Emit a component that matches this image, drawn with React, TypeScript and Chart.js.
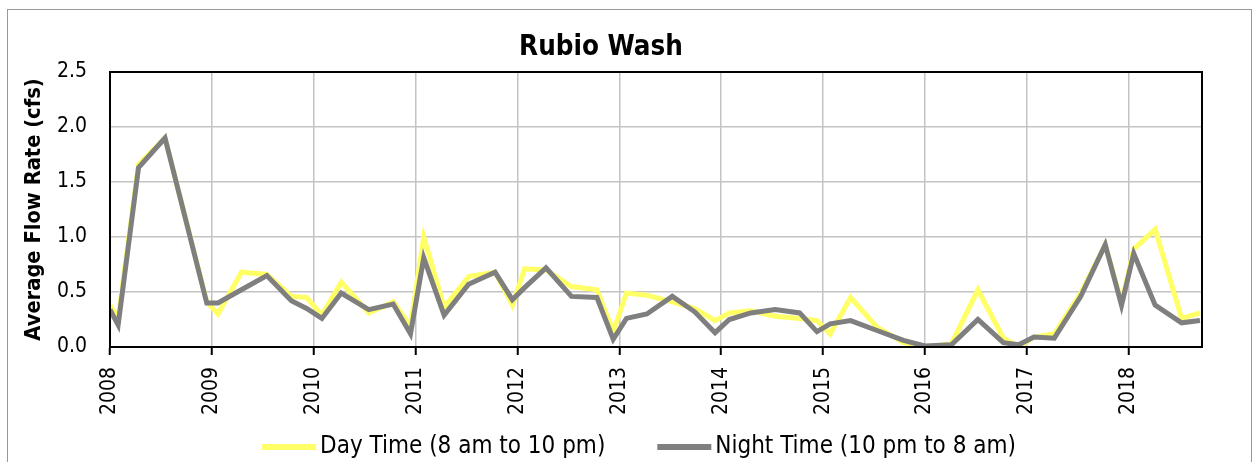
import React, { useEffect, useRef } from 'react';
import { Chart, registerables } from 'chart.js';

Chart.register(...registerables);

const TITLE = 'Rubio Wash';
const Y_TITLE = 'Average Flow Rate (cfs)';
const DAY_LABEL = 'Day Time (8 am to 10 pm)';
const NIGHT_LABEL = 'Night Time (10 pm to 8 am)';

// Sample dates as decimal years
const sampleYears = [
  2008.00, 2008.08, 2008.28, 2008.54, 2008.95,
  2009.06, 2009.29, 2009.54, 2009.78, 2009.93,
  2010.08, 2010.27, 2010.54, 2010.78, 2010.95,
  2011.08, 2011.28, 2011.52, 2011.78, 2011.95,
  2012.07, 2012.28, 2012.53, 2012.78, 2012.94,
  2013.07, 2013.27, 2013.52, 2013.74, 2013.94,
  2014.08, 2014.29, 2014.53, 2014.77, 2014.94,
  2015.07, 2015.27, 2015.53, 2015.79, 2016.00,
  2016.26, 2016.52, 2016.77, 2016.92,
  2017.07, 2017.27, 2017.53, 2017.77, 2017.93,
  2018.05, 2018.26, 2018.52, 2018.70,
];

const dayFlow = [
  0.38, 0.26, 1.66, 1.90, 0.41,
  0.30, 0.68, 0.66, 0.46, 0.45,
  0.29, 0.59, 0.31, 0.41, 0.19,
  1.00, 0.36, 0.64, 0.68, 0.38,
  0.71, 0.70, 0.55, 0.52, 0.14,
  0.49, 0.47, 0.41, 0.35, 0.24,
  0.31, 0.33, 0.28, 0.26, 0.24,
  0.12, 0.45, 0.18, 0.04, 0.00,
  0.03, 0.52, 0.08, 0.00,
  0.09, 0.12, 0.49, 0.93, 0.40,
  0.89, 1.07, 0.26, 0.31,
];

const nightFlow = [
  0.34, 0.20, 1.63, 1.90, 0.40,
  0.40, 0.52, 0.65, 0.42, 0.35,
  0.26, 0.49, 0.34, 0.39, 0.12,
  0.81, 0.29, 0.57, 0.68, 0.43,
  0.54, 0.72, 0.46, 0.45, 0.07,
  0.26, 0.30, 0.46, 0.32, 0.13,
  0.25, 0.31, 0.34, 0.31, 0.14,
  0.21, 0.24, 0.15, 0.06, 0.01,
  0.02, 0.25, 0.04, 0.02,
  0.09, 0.08, 0.46, 0.93, 0.38,
  0.85, 0.38, 0.22, 0.24,
];

const yearTicks = [2008, 2009, 2010, 2011, 2012, 2013, 2014, 2015, 2016, 2017, 2018];
const flowTicks = [0, 0.5, 1.0, 1.5, 2.0, 2.5];
const X_MIN = 2008;
const X_MAX = 2018.72;

const DAY_COLOR = '#ffff66';
const NIGHT_COLOR = '#7f7f7f';
const GRID_COLOR = '#c3c3c3';

function pickFamily(): string {
  const c = document.createElement('canvas').getContext('2d')!;
  const sample = 'mmmmWWWWiiii0123456789 Average';
  c.font = '100px monospace';
  const base = c.measureText(sample).width;
  c.font = "100px 'DejaVu Sans Condensed', monospace";
  const w = c.measureText(sample).width;
  return Math.abs(w - base) > 0.5 ? "'DejaVu Sans Condensed', 'DejaVu Sans', sans-serif" : "'DejaVu Sans', sans-serif";
}

function fitSize(family: string, weight: string, text: string, target: number): number {
  const c = document.createElement('canvas').getContext('2d')!;
  c.font = `${weight} 100px ${family}`;
  const w = c.measureText(text).width;
  return Math.round((100 * target / w) * 10) / 10;
}

export default function App() {
  const canvasRef = useRef<HTMLCanvasElement | null>(null);

  useEffect(() => {
    if (!canvasRef.current) return;
    const FONT = pickFamily();
    const titleSize = fitSize(FONT, 'bold', TITLE, 164);
    const yTitleSize = fitSize(FONT, 'bold', Y_TITLE, 262);
    const tickSize = fitSize(FONT, 'normal', '2018', 48);
    const legendSize = fitSize(FONT, 'normal', DAY_LABEL, 285);

    const plotFrame = {
      id: 'plotFrame',
      afterDraw(chart: any) {
        const { ctx, chartArea } = chart;
        ctx.save();
        ctx.strokeStyle = '#000';
        ctx.lineWidth = 2;
        ctx.strokeRect(chartArea.left, chartArea.top, chartArea.right - chartArea.left, chartArea.bottom - chartArea.top);
        ctx.restore();
      },
    };

    const excelLegend = {
      id: 'excelLegend',
      afterDraw(chart: any) {
        const { ctx } = chart;
        const items = [1, 0].map((i) => chart.data.datasets[i]);
        const swatch = 54;
        const gap = 4;
        const itemGap = 52;
        ctx.save();
        ctx.font = `${legendSize}px ${FONT}`;
        ctx.textBaseline = 'middle';
        ctx.textAlign = 'left';
        const widths = items.map((d: any) => ctx.measureText(d.label).width);
        const total = widths.reduce((a: number, w: number) => a + swatch + gap + w, 0) + itemGap * (items.length - 1);
        const cy = 447;
        let x = 639 - total / 2;
        items.forEach((d: any, i: number) => {
          ctx.strokeStyle = d.borderColor;
          ctx.lineWidth = 6;
          ctx.beginPath();
          ctx.moveTo(x, cy);
          ctx.lineTo(x + swatch, cy);
          ctx.stroke();
          ctx.fillStyle = '#000';
          ctx.fillText(d.label, x + swatch + gap, cy);
          x += swatch + gap + widths[i] + itemGap;
        });
        ctx.restore();
      },
    };

    const tickFont = { family: FONT, size: tickSize };
    const titleLH = titleSize * 1.2;
    const yTitleLH = yTitleSize * 1.2;

    const chart = new Chart(canvasRef.current, {
      type: 'line',
      data: {
        datasets: [
          {
            label: NIGHT_LABEL,
            data: sampleYears.map((x, i) => ({ x, y: nightFlow[i] })),
            borderColor: NIGHT_COLOR,
            backgroundColor: NIGHT_COLOR,
            borderWidth: 5,
            pointRadius: 0,
            tension: 0,
            fill: false,
          },
          {
            label: DAY_LABEL,
            data: sampleYears.map((x, i) => ({ x, y: dayFlow[i] })),
            borderColor: DAY_COLOR,
            backgroundColor: DAY_COLOR,
            borderWidth: 5,
            pointRadius: 0,
            tension: 0,
            fill: false,
          },
        ],
      },
      options: {
        responsive: false,
        animation: false,
        layout: { padding: { left: 0, right: 50, top: 0, bottom: 0 } },
        plugins: {
          legend: { display: false },
          tooltip: { enabled: false },
          title: {
            display: true,
            text: TITLE,
            color: '#000',
            font: { family: FONT, size: titleSize, weight: 'bold' },
            padding: { top: 48 - titleLH / 2, bottom: 72 - 48 - titleLH / 2 },
          },
        },
        scales: {
          x: {
            type: 'linear',
            min: X_MIN,
            max: X_MAX,
            afterFit: (s: any) => { s.height = 115; },
            afterBuildTicks: (s: any) => { s.ticks = yearTicks.map((v) => ({ value: v })); },
            ticks: {
              callback: (v: any) => String(v),
              minRotation: 90,
              maxRotation: 90,
              autoSkip: false,
              padding: 12,
              color: '#000',
              font: tickFont,
            },
            grid: {
              color: GRID_COLOR,
              lineWidth: 1.5,
              drawTicks: true,
              tickLength: 8,
              tickColor: '#000',
              tickWidth: 2,
            },
            border: { display: true, color: '#000', width: 2 },
          },
          y: {
            min: 0,
            max: 2.5,
            afterFit: (s: any) => { s.width = 110; },
            afterBuildTicks: (s: any) => { s.ticks = flowTicks.map((v) => ({ value: v })); },
            ticks: {
              callback: (v: any) => Number(v).toFixed(1),
              padding: 23,
              color: '#000',
              font: tickFont,
            },
            grid: { color: GRID_COLOR, lineWidth: 1.5, drawTicks: false },
            border: { display: true, color: '#000', width: 2 },
            title: {
              display: true,
              text: Y_TITLE,
              color: '#000',
              font: { family: FONT, size: yTitleSize, weight: 'bold' },
              padding: { top: 34.5 - yTitleLH / 2, bottom: 0 },
            },
          },
        },
      },
      plugins: [plotFrame, excelLegend],
    } as any);
    return () => chart.destroy();
  }, []);

  return (
    <div style={{ position: 'fixed', left: 0, top: 0, width: 1252, height: 462, background: '#fff', overflow: 'hidden' }}>
      <div
        style={{
          position: 'absolute',
          left: 7,
          top: 9,
          width: 1243,
          height: 470,
          border: '1px solid #999',
          pointerEvents: 'none',
        }}
      />
      <canvas ref={canvasRef} width={1252} height={462} style={{ position: 'absolute', left: 0, top: 0, width: 1252, height: 462 }} />
    </div>
  );
}
